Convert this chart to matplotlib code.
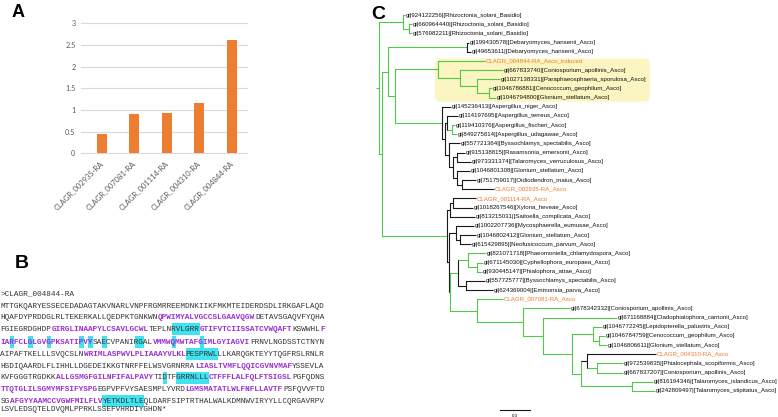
import matplotlib
matplotlib.use('Agg')
import matplotlib.pyplot as plt
from matplotlib.patches import Rectangle, FancyBboxPatch

# ---------------- data ----------------
genes = ['CLAGR_002935-RA', 'CLAGR_007081-RA', 'CLAGR_001114-RA',
         'CLAGR_004310-RA', 'CLAGR_004844-RA']
expression = [0.44, 0.91, 0.93, 1.155, 2.62]
y_ticks = [0, 0.5, 1, 1.5, 2, 2.5, 3]
y_tick_labels = ['0', '0.5', '1', '1.5', '2', '2.5', '3']

seq_header = '>CLAGR_004844-RA'
seq_lines = [
    "MTTGKQARYESSECEDADAGTAKVNARLVNPFRGMRREEMDNKIIKFMKMTEIDERDSDLIRKGAFLAQD",
    "HQAFDYPRDDGLRLTEKERKALLQEDPKTGNKWNQPWIMYALVGCCSLGAAVQGWDETAVSGAQVFYQHA",
    "FGIEGRDGHDPGIRGLINAAPYLCSAVLGCWLTEPLNRVLGRRGTIFVTCIISSATCVWQAFTKSWWHLF",
    "IARFCLGLGVGPKSATIPVYSAECVPANIRGALVMMWQMWTAFGIMLGYIAGVIFRNVLNGDSSTCTNYN",
    "AIPAFTKELLLSVQCSLNWRIMLASPWVLPLIAAAYVLKLPESPRWLLLKARQGKTEYYTQGFRSLRNLR",
    "HSDIQAARDLFLIHHLLDGEDEIKKGTNRFFELWSVGRNRRALIASLTVMFLQQICGVNVMAFYSSEVLA",
    "KVFGGGTRGDKKALLGSMGFGILNFIFALPAVYTIDTFGRRNLLLCTFFFLALFQLFTSIGSLPGFQDNS",
    "TTQTGLILSGMYMFSIFYSPGEGPVPFVYSAESMPLYVRDLGMSMATATLWLFNFLLAVTFPSFQVVFTD",
    "SGAFGYYAAMCCVGWFMILFLVYETKDLTLEQLDARFSIPTRTHALWALKDMNWVIRYYLLCQRGAVRPV",
    "LSVLEDSQTELDVQMLPPRKLSSEFVHRDIYGHDN*",
]
# (line, start, end) character spans
tm_spans = [(1, 34, 55), (2, 11, 32), (2, 43, 63), (2, 69, 70),
            (3, 0, 20), (3, 33, 54), (4, 18, 40), (5, 42, 63),
            (6, 12, 33), (6, 45, 63), (7, 0, 21), (7, 40, 61), (8, 2, 22)]
motif_spans = [(2, 37, 43), (3, 2, 3), (3, 6, 7), (3, 10, 11), (3, 17, 18),
               (3, 19, 20), (3, 22, 23), (3, 29, 31), (3, 37, 38), (3, 43, 44),
               (4, 40, 47), (6, 35, 36), (6, 38, 45), (8, 22, 31)]

leaf_names = [
    "gi|924122256|[Rhizoctonia_solani_Basidio]",
    "gi|660964440|[Rhizoctonia_solani_Basidio]",
    "gi|576982211|[Rhizoctonia_solani_Basidio]",
    "gi|199430578|[Debaryomyces_hansenii_Asco]",
    "gi|49653611|[Debaryomyces_hansenii_Asco]",
    "CLAGR_004844-RA_Asco_induced",
    "gi|667833740|[Coniosporium_apollinis_Asco]",
    "gi|1027138331|[Paraphaeosphaeria_sporulosa_Asco]",
    "gi|1046786881|[Cenococcum_geophilum_Asco]",
    "gi|1046794800|[Glonium_stellatum_Asco]",
    "gi|145236413|[Aspergillus_niger_Asco]",
    "gi|114197695|[Aspergillus_terreus_Asco]",
    "gi|119410376|[Aspergillus_fischeri_Asco]",
    "gi|849275814|[Aspergillus_udagawae_Asco]",
    "gi|557721364|[Byssochlamys_spectabilis_Asco]",
    "gi|915138815|[Rasamsonia_emersonii_Asco]",
    "gi|973331374|[Talaromyces_verruculosus_Asco]",
    "gi|1046801308|[Glonium_stellatum_Asco]",
    "gi|751759017|[Oidiodendron_maius_Asco]",
    "CLAGR_002935-RA_Asco",
    "CLAGR_001114-RA_Asco",
    "gi|1018267546|[Xylona_heveae_Asco]",
    "gi|813215031|[Saitoella_complicata_Asco]",
    "gi|1002207736|[Mycosphaerella_eumusae_Asco]",
    "gi|1046802412|[Glonium_stellatum_Asco]",
    "gi|615429895|[Neofusicoccum_parvum_Asco]",
    "gi|821071718|[Phaeomoniella_chlamydospora_Asco]",
    "gi|671145030|[Cyphellophora_europaea_Asco]",
    "gi|930445147|[Phialophora_attae_Asco]",
    "gi|557725777|[Byssochlamys_spectabilis_Asco]",
    "gi|624369004|[Emmonsia_parva_Asco]",
    "CLAGR_007081-RA_Asco",
    "gi|678342332|[Coniosporium_apollinis_Asco]",
    "gi|671168884|[Cladophialophora_carrionii_Asco]",
    "gi|1046772245|[Lepidopterella_palustris_Asco]",
    "gi|1046784759|[Cenococcum_geophilum_Asco]",
    "gi|1046806611|[Glonium_stellatum_Asco]",
    "CLAGR_004310-RA_Asco",
    "gi|972539835|[Phialocephala_scopiformis_Asco]",
    "gi|667837207|[Coniosporium_apollinis_Asco]",
    "gi|816194346|[Talaromyces_islandicus_Asco]",
    "gi|242809497|[Talaromyces_stipitatus_Asco]",
]
# newick with leaf indices; tag after '|' = colour of branch (+ colour of node bar)
tree_newick = (
    "("
    "(0|g:0.017,(1|g:0.022,2|g:0.027)|gg:0.06)|gg:0.24,"
    "("
    "("
    "(3|k:0.023,4|k:0.038)|gk:0.784,"
    "("
    "(5|g:0.467,(6|g:0.43,(7|g:0.233,(8|g:0.027,9|g:0.067)|gg:0.126)|gg:0.167)|gg:0.217)|gg:0.433,"
    "(10|k:0.088,((11|k:0.107,(12|g:0.03,13|g:0.05)|gg:0.047)|kk:0.028,"
    "(14|k:0.11,((15|k:0.072,16|k:0.137)|kk:0.04,(17|k:0.133,(18|k:0.143,19|k:0.323)|kk:0.05)|kk:0.034)|kk:0.043)|kk:0.045)|kk:0.028)|gk:0.467"
    ")|gg:0.067"
    ")|gg:0.066,"
    "("
    "((20|k:0.227,21|k:0.197)|kk:0.03,22|k:0.247)|kk:0.03,"
    "("
    "(23|k:0.18,(24|k:0.16,25|k:0.11)|kk:0.04)|kk:0.075,"
    "("
    "((26|g:0.177,(27|g:0.063,28|g:0.048)|gg:0.084)|gg:0.1,(29|k:0.193,30|k:0.273)|kk:0.074)|gk:0.083,"
    "(31|g:0.263,(32|g:0.467,(33|g:0.737,((34|g:0.088,(35|g:0.057,36|g:0.077)|gg:0.066)|gg:0.21,"
    "((37|k:0.693,(38|g:0.263,39|g:0.263)|gg:0.1)|kk:0.06,(40|g:0.213,41|g:0.228)|gg:0.51)|gg:0.09)|gg:0.284)|gg:0.2)|gg:0.466)|gg:0.267"
    ")|gg:0.015"
    ")|kk:0.012"
    ")|gk:0.656"
    ")|gg:0.024"
    ")|gg:0.033"
)
highlight_clade = (5, 9)
scale_bar = 0.3

# ---------------- figure ----------------
FW, FH = 778.0, 417.0
fig = plt.figure(figsize=(FW / 100, FH / 100), dpi=100)


def px_axes(x0, y0, x1, y1):
    return fig.add_axes([x0 / FW, 1 - y1 / FH, (x1 - x0) / FW, (y1 - y0) / FH])


ORANGE = '#ED7D31'
GREEN = '#52c94a'
DARK = '#1a1a1a'
PURPLE = '#9b30d0'
CYAN = '#3fe3f2'

# ---- panel A ----
axA = px_axes(81, 23.3, 247, 153.3)
xs = list(range(len(genes)))
axA.bar(xs, expression, width=0.31, color=ORANGE, zorder=3)
axA.set_xlim(-0.635, 4.46)
axA.set_ylim(0, 3)
axA.set_yticks(y_ticks, y_tick_labels)
axA.set_xticks(xs, genes, rotation=45, ha='right', va='center',
               rotation_mode='anchor')
axA.tick_params(axis='both', length=0, colors='#595959')
axA.tick_params(axis='y', pad=4, labelsize=5.2)
axA.tick_params(axis='x', pad=6, labelsize=5.4)
for lbl in axA.get_xticklabels() + axA.get_yticklabels():
    lbl.set_fontfamily('Lato')
for s in axA.spines.values():
    s.set_visible(False)
axA.grid(axis='y', color='#d9d9d9', lw=0.8, zorder=0)
for gl in axA.get_ygridlines():
    gl.set_clip_on(False)

# ---- panel B ----
cw = 4.63
axB = px_axes(0.5, 280, 0.5 + 82 * cw, 417)
axB.set_xlim(0, 82)
axB.set_ylim(417, 280)
axB.axis('off')
line_y = [306.5, 317.3, 329.0, 342.3, 354.0, 366.0, 377.7, 389.7, 401.2, 409.8]
mono = 'Liberation Mono'
fs_seq = 5.56
axB.text(0, 293.5, seq_header, family=mono, fontsize=fs_seq, color='#333333',
         va='center', ha='left')
for (li, s, e) in motif_spans:
    axB.add_patch(Rectangle((s, line_y[li] - 6), e - s, 12, color=CYAN,
                            lw=0, zorder=1))
for li, line in enumerate(seq_lines):
    flags = [False] * len(line)
    for (l2, s, e) in tm_spans:
        if l2 == li:
            for k in range(s, e):
                flags[k] = True
    k = 0
    while k < len(line):
        j = k
        while j < len(line) and flags[j] == flags[k]:
            j += 1
        seg = line[k:j]
        if flags[k]:
            axB.text(k, line_y[li], seg, family=mono, fontsize=fs_seq,
                     color=PURPLE, fontweight='bold', va='center', ha='left',
                     zorder=2)
        else:
            axB.text(k, line_y[li], seg, family=mono, fontsize=fs_seq,
                     color='#333333', va='center', ha='left', zorder=2)
        k = j


# ---- panel C : tree ----
def parse(s, i=0):
    children = []
    leaf = None
    if s[i] == '(':
        i += 1
        while True:
            child, i = parse(s, i)
            children.append(child)
            if s[i] == ',':
                i += 1
            else:  # ')'
                i += 1
                break
    else:
        j = i
        while s[i] not in '|:':
            i += 1
        leaf = int(s[j:i])
    tag = ''
    if s[i] == '|':
        j = i + 1
        while s[i] != ':':
            i += 1
        tag = s[j:i]
    i += 1
    j = i
    while i < len(s) and s[i] not in ',)':
        i += 1
    length = float(s[j:i])
    return {'leaf': leaf, 'children': children, 'tag': tag, 'len': length}, i


root, _ = parse(tree_newick.replace(' ', ''))
order = [0]


def layout(node, px):
    node['px'] = px
    node['x'] = px + node['len']
    if node['leaf'] is not None:
        node['y'] = order[0]
        order[0] += 1
        node['leaves'] = [node['leaf']]
    else:
        for c in node['children']:
            layout(c, node['x'])
        ys = [c['y'] for c in node['children']]
        node['y'] = (min(ys) + max(ys)) / 2
        node['leaves'] = [l for c in node['children'] for l in c['leaves']]


layout(root, 0.0)

axC = px_axes(370, 0, 778, 417)
axC.set_xlim((370 - 376) / 100, (778 - 376) / 100)
leaf_step = 9.17
axC.set_ylim((417 - 15) / leaf_step, (0 - 15) / leaf_step)
axC.axis('off')

col = {'g': GREEN, 'k': DARK}


def find(node, lo, hi):
    if sorted(node['leaves']) == list(range(lo, hi + 1)):
        return node
    for c in node['children']:
        r = find(c, lo, hi)
        if r is not None:
            return r
    return None


hc = find(root, *highlight_clade)
box = FancyBboxPatch((hc['x'] - 0.035, highlight_clade[0] - 0.25),
                     2.74 - (hc['x'] - 0.035),
                     highlight_clade[1] - highlight_clade[0] + 0.7,
                     boxstyle='round,pad=0,rounding_size=0.06',
                     mutation_aspect=100 / leaf_step,
                     fc='#fbf5c2', ec='none', zorder=0)
axC.add_patch(box)


def draw(node):
    axC.plot([node['px'], node['x']], [node['y'], node['y']],
             color=col[node['tag'][0]], lw=0.8, solid_capstyle='butt', zorder=2)
    if node['children']:
        ys = [c['y'] for c in node['children']]
        axC.plot([node['x'], node['x']], [min(ys), max(ys)],
                 color=col[node['tag'][1]], lw=0.8, solid_capstyle='projecting',
                 zorder=2)
        for c in node['children']:
            draw(c)
    else:
        name = leaf_names[node['leaf']]
        tc = '#ef7a2c' if name.startswith('CLAGR') else '#111111'
        axC.text(node['x'] + 0.012, node['y'], name, fontsize=4.4,
                 family='Liberation Sans', color=tc, va='center', ha='left',
                 zorder=3)


draw(root)

sb_x = 1.24
sb_y = (410 - 15) / leaf_step
axC.plot([sb_x, sb_x + scale_bar], [sb_y, sb_y], color=DARK, lw=0.8)
axC.text(sb_x + scale_bar / 2, sb_y + 0.6, '%g' % scale_bar, fontsize=3.2,
         ha='center', va='center', family='Liberation Sans')

# ---- panel letters ----
fig.text(12 / FW, 1 - 4 / FH, 'A', fontsize=13, fontweight='bold', va='top',
         family='Liberation Sans')
fig.text(15 / FW, 1 - 255 / FH, 'B', fontsize=14, fontweight='bold', va='top',
         family='Liberation Sans')
fig.text(371 / FW, 1 - 6 / FH, 'C', fontsize=14, fontweight='bold', va='top',
         family='Liberation Sans')

fig.savefig('out.png', dpi=100)
